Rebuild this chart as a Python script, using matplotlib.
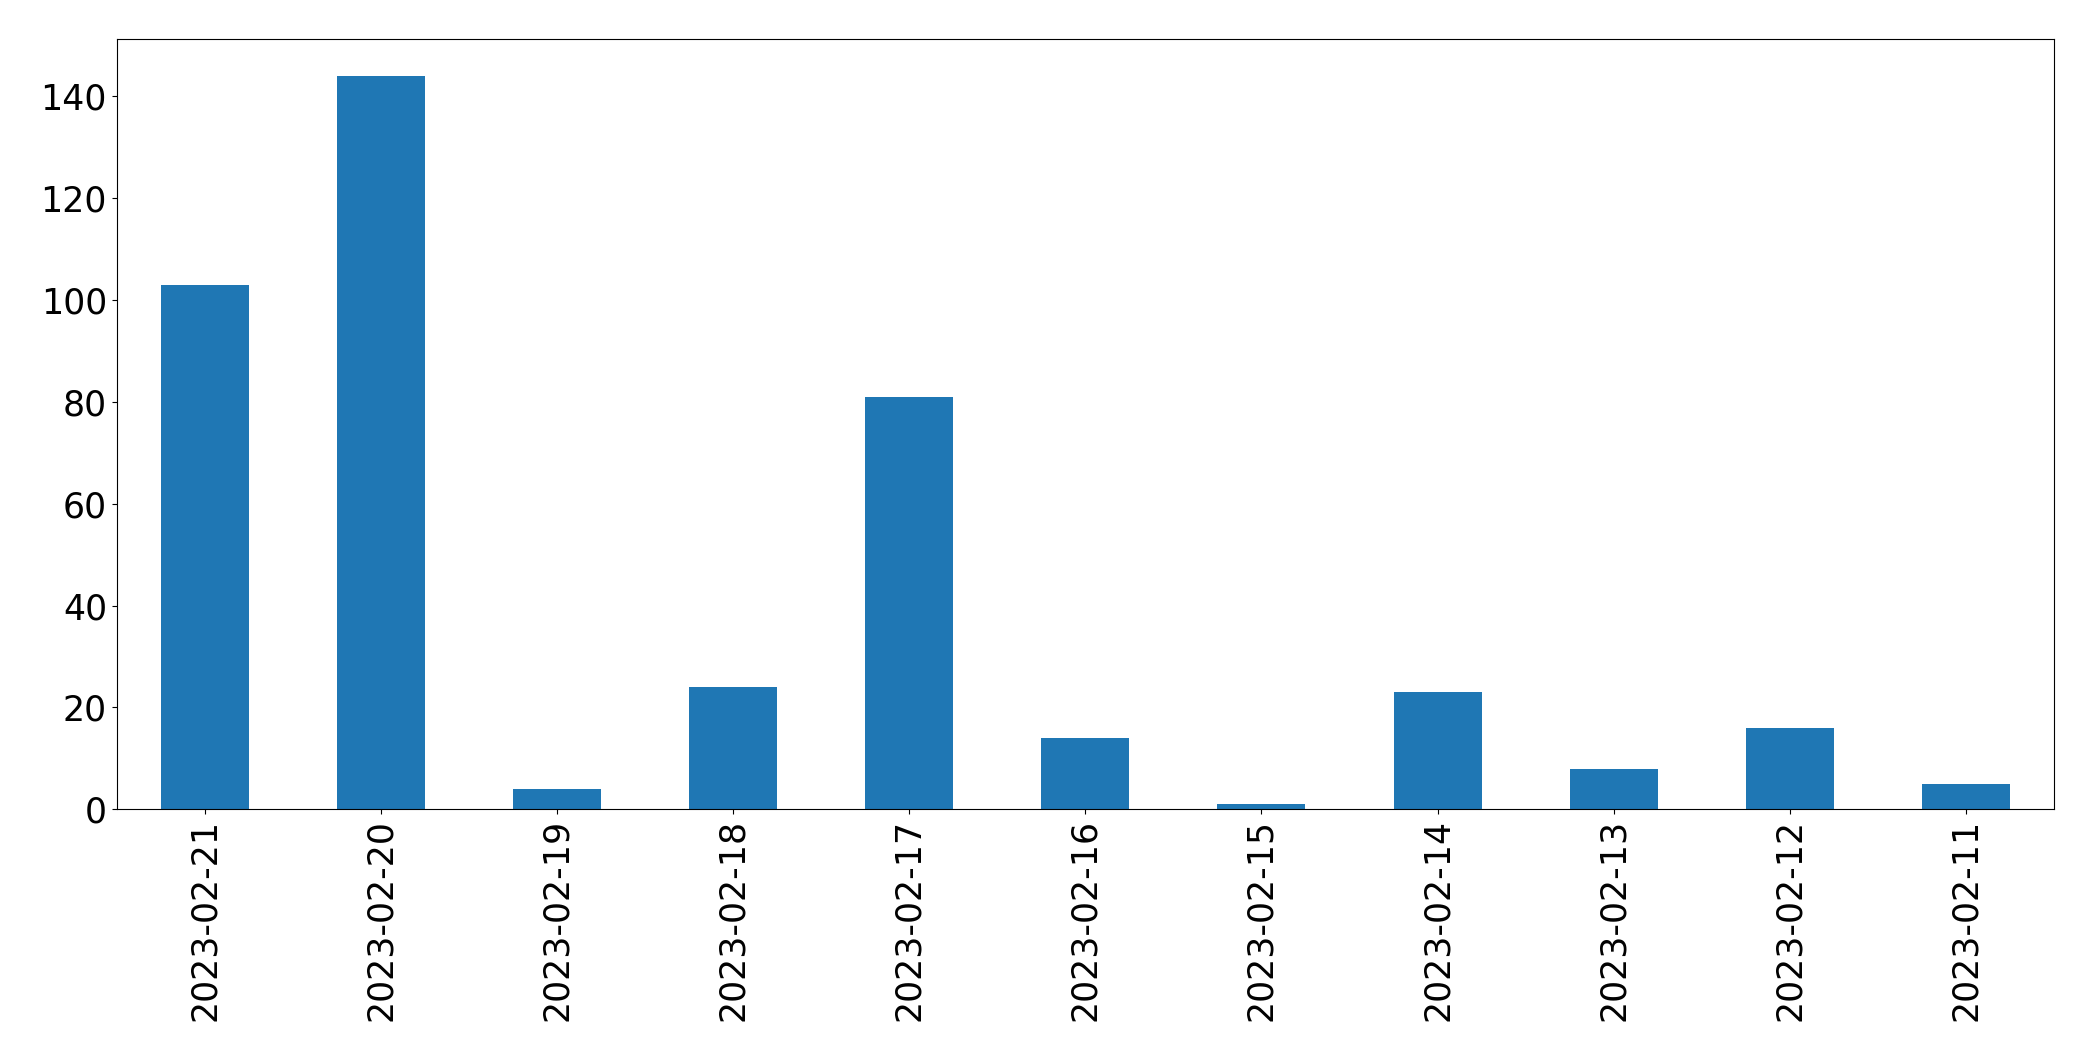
import matplotlib
matplotlib.use('Agg')
import matplotlib.pyplot as plt
import pandas as pd

dates = ['2023-02-21', '2023-02-20', '2023-02-19', '2023-02-18', '2023-02-17',
         '2023-02-16', '2023-02-15', '2023-02-14', '2023-02-13', '2023-02-12',
         '2023-02-11']
counts = [103, 144, 4, 24, 81, 14, 1, 23, 8, 16, 5]

s = pd.Series(counts, index=dates)

fig = plt.figure(figsize=(20.93, 10.61), dpi=100)
ax = fig.add_axes([116.7 / 2093, 1 - 809.3 / 1061,
                   (2054 - 116.7) / 2093, (809.3 - 39.3) / 1061])
s.plot.bar(ax=ax, color='#1f77b4')
ax.tick_params(axis='both', labelsize=25)
fig.savefig('out.png', dpi=100)
plt.close()
